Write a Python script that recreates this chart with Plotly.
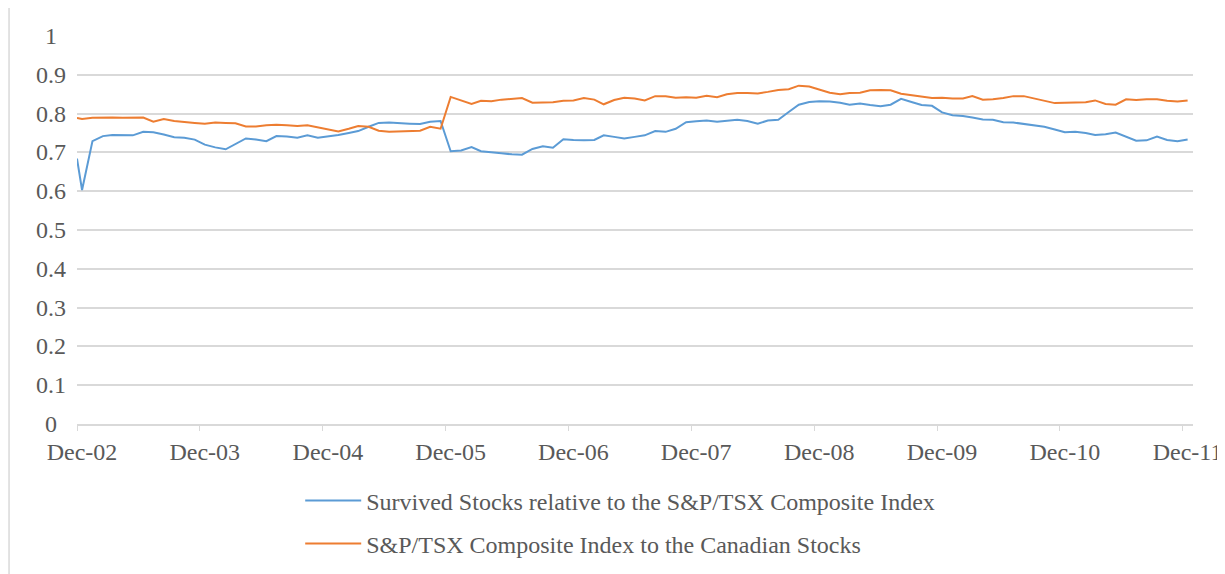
import plotly.graph_objects as go

# first reading on 1 Dec 2002, then one reading per month (mid-month) to Dec 2011
first_date = ["2002-12-01"]
monthly_dates = [f"{2002 + (11 + k) // 12}-{(11 + k) % 12 + 1:02d}-16" for k in range(109)]
dates = first_date + monthly_dates

survived = [
    0.684,
    0.603, 0.729, 0.742, 0.745, 0.745, 0.744, 0.753, 0.752, 0.746, 0.739, 0.738, 0.733,
    0.720, 0.713, 0.708, 0.722, 0.736, 0.733, 0.729, 0.742, 0.741, 0.738, 0.744, 0.738,
    0.741, 0.745, 0.750, 0.755, 0.766, 0.776, 0.777, 0.775, 0.774, 0.773, 0.779, 0.781,
    0.703, 0.705, 0.714, 0.703, 0.701, 0.698, 0.695, 0.694, 0.709, 0.716, 0.712, 0.734,
    0.732, 0.731, 0.732, 0.744, 0.740, 0.736, 0.740, 0.744, 0.755, 0.753, 0.761, 0.778,
    0.780, 0.782, 0.779, 0.781, 0.784, 0.781, 0.774, 0.782, 0.784, 0.804, 0.823, 0.830,
    0.832, 0.831, 0.828, 0.823, 0.826, 0.822, 0.819, 0.823, 0.838, 0.830, 0.822, 0.820,
    0.803, 0.796, 0.794, 0.790, 0.785, 0.784, 0.778, 0.777, 0.773, 0.769, 0.766, 0.759,
    0.752, 0.753, 0.750, 0.745, 0.747, 0.751, 0.741, 0.730, 0.731, 0.741, 0.732, 0.729,
    0.733,
]

composite = [
    0.789,
    0.786, 0.789, 0.790, 0.790, 0.789, 0.789, 0.790, 0.779, 0.786, 0.781, 0.778, 0.776,
    0.774, 0.777, 0.776, 0.775, 0.767, 0.767, 0.770, 0.771, 0.770, 0.768, 0.770, 0.764,
    0.760, 0.754, 0.761, 0.768, 0.766, 0.756, 0.753, 0.754, 0.755, 0.756, 0.766, 0.761,
    0.843, 0.833, 0.825, 0.833, 0.832, 0.836, 0.839, 0.840, 0.828, 0.829, 0.829, 0.833,
    0.834, 0.840, 0.836, 0.824, 0.835, 0.841, 0.839, 0.834, 0.845, 0.845, 0.841, 0.842,
    0.841, 0.846, 0.842, 0.850, 0.853, 0.853, 0.852, 0.856, 0.861, 0.863, 0.872, 0.870,
    0.862, 0.854, 0.850, 0.853, 0.854, 0.860, 0.861, 0.860, 0.851, 0.847, 0.843, 0.840,
    0.841, 0.839, 0.839, 0.845, 0.836, 0.837, 0.840, 0.845, 0.845, 0.839, 0.834, 0.827,
    0.828, 0.829, 0.829, 0.834, 0.825, 0.823, 0.837, 0.835, 0.837, 0.837, 0.833, 0.831,
    0.834,
]

series_names = [
    "Survived Stocks relative to the S&P/TSX Composite Index",
    "S&P/TSX Composite Index to the Canadian Stocks",
]
y_ticks = [0, 0.1, 0.2, 0.3, 0.4, 0.5, 0.6, 0.7, 0.8, 0.9, 1]
y_tick_text = ["0", "0.1", "0.2", "0.3", "0.4", "0.5", "0.6", "0.7", "0.8", "0.9", "1"]

FONT = "Liberation Serif"
TEXT = "#595959"
GRID = "#D9D9D9"

fig = go.Figure()
fig.add_trace(go.Scatter(x=dates, y=survived, mode="lines", name=series_names[0],
                         legendgroup="a", line=dict(color="#5B9BD5", width=2)))
fig.add_trace(go.Scatter(x=dates, y=composite, mode="lines", name=series_names[1],
                         legendgroup="b", line=dict(color="#ED7D31", width=2)))

# y labels centred like the original
for v, t in zip(y_ticks, y_tick_text):
    fig.add_annotation(x=-0.0233, xref="paper", y=v, yref="y", text=t, showarrow=False,
                       xanchor="center", yanchor="middle",
                       font=dict(family=FONT, size=24, color=TEXT))

# outer chart border (left/right edges)
for xp in (-0.0609, 1.0224):
    fig.add_shape(type="line", xref="paper", yref="paper", x0=xp, x1=xp, y0=-0.5, y1=1.2,
                  line=dict(color=GRID, width=1.5))

# page body has an 8px margin, so the figure is offset by 8px
fig.update_layout(
    width=1217, height=566,
    margin=dict(l=69, r=32, t=28, b=150, autoexpand=False),
    paper_bgcolor="white", plot_bgcolor="white",
    font=dict(family=FONT, size=24, color=TEXT),
    showlegend=True,
    legend=dict(orientation="v", x=0.2, xanchor="left", y=-0.14, yanchor="top",
                tracegroupgap=9, itemwidth=56,
                font=dict(family=FONT, size=24, color=TEXT),
                bgcolor="rgba(0,0,0,0)"),
)
fig.update_xaxes(
    type="date", range=["2002-12-01", "2012-01-01"],
    tick0="2002-12-01", dtick="M12", tickformat="%b-%y",
    ticks="outside", ticklen=5, tickcolor=GRID, ticklabelshift=5, ticklabelstandoff=0,
    showline=True, linecolor=GRID, linewidth=1.5, showgrid=False,
    tickfont=dict(family=FONT, size=24, color=TEXT),
)
fig.update_yaxes(
    range=[0, 1], tickvals=y_ticks, showticklabels=False,
    showgrid=True, gridcolor=GRID, gridwidth=1.5, zeroline=False,
)

fig.write_html("out.html")
